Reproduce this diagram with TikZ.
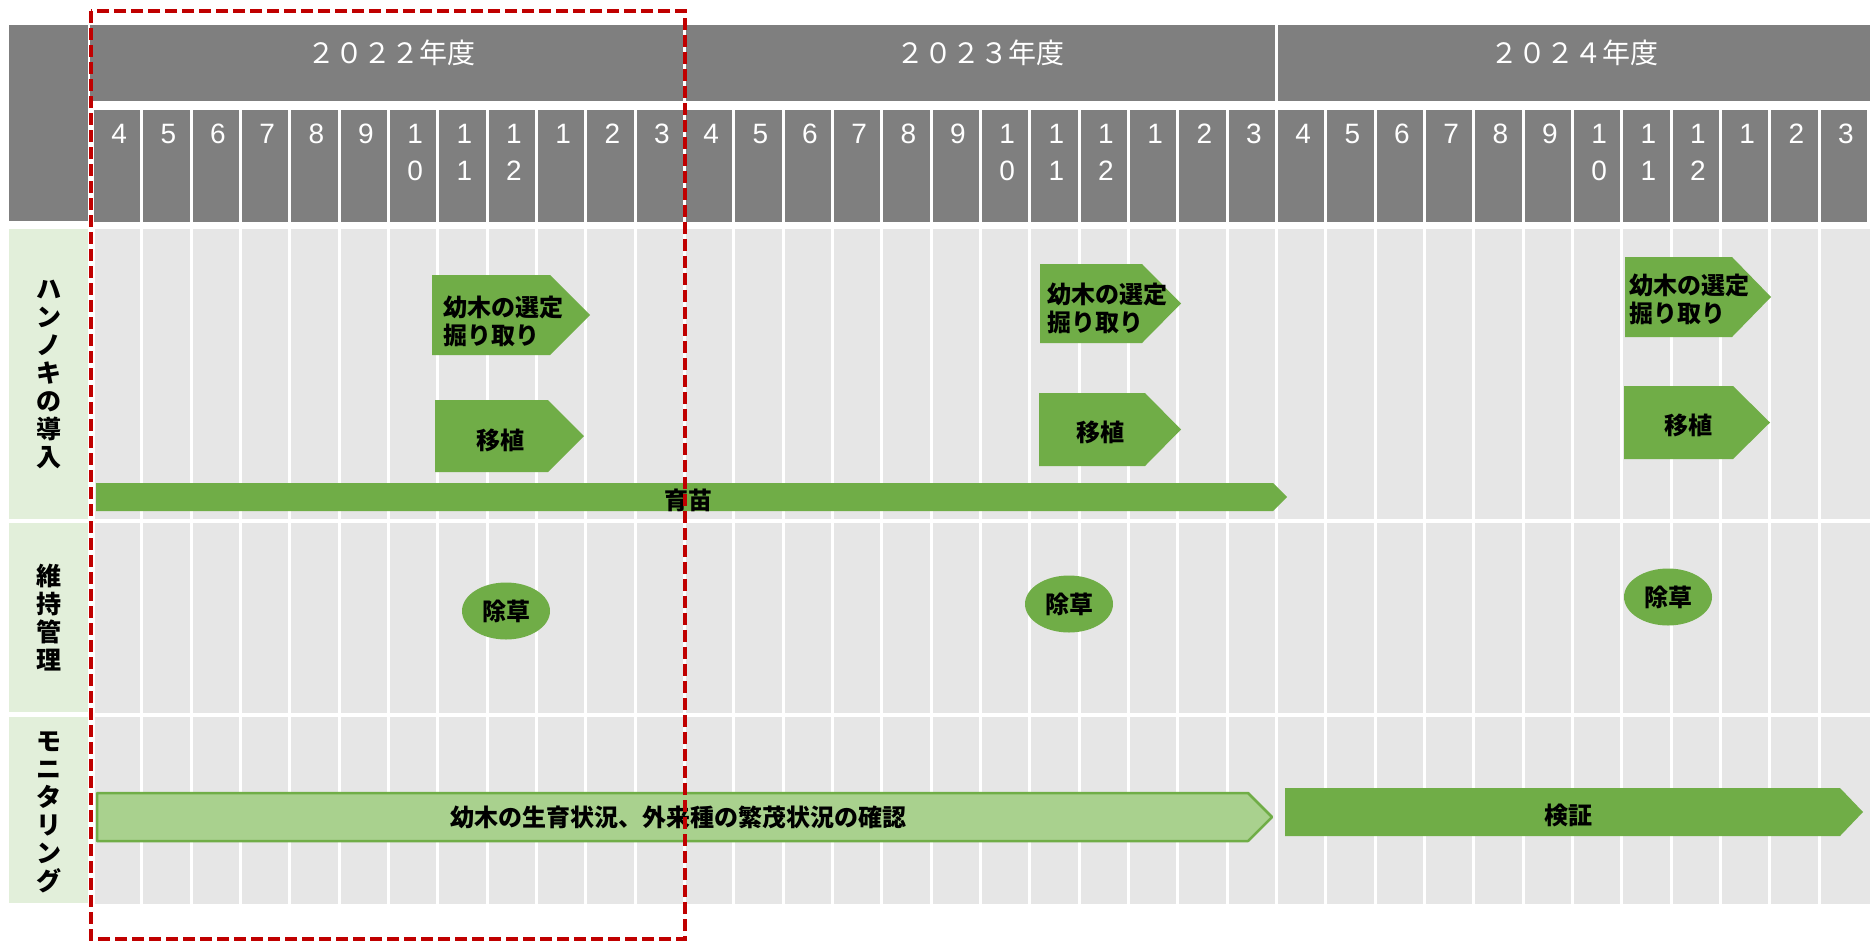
\documentclass[tikz,border=0pt]{standalone}
\usepackage{fontspec}
\usetikzlibrary{shapes.geometric}
\newfontfamily\jp{Noto Sans CJK JP}
\newfontfamily\arl{Liberation Sans}
\definecolor{hdr}{HTML}{7F7F7F}
\definecolor{cellgray}{HTML}{E6E6E6}
\definecolor{labgreen}{HTML}{E2EFDA}
\definecolor{midgreen}{HTML}{70AD47}
\definecolor{lightgreen}{HTML}{A9D18E}
\definecolor{darkred}{HTML}{C00000}
\newcommand\hplate[6]{\fill[#6] (#1,#2) -- (#3,#2) -- (#5,{(#2+#4)/2}) -- (#3,#4) -- (#1,#4) -- cycle;}
\begin{document}
\begin{tikzpicture}[x=1pt,y=-1pt,
  yeartext/.style={text=white,font=\jp\fontsize{28}{30}\selectfont,inner sep=0pt},
  monthtext/.style={text=white,font=\arl\fontsize{28}{37}\selectfont,align=center,anchor=north,inner sep=0pt},
  bartext/.style={text=black,font=\jp\bfseries\fontsize{24}{28}\selectfont,inner sep=0pt},
  labtext/.style={text=black,font=\jp\bfseries\fontsize{25}{28}\selectfont,align=center,inner sep=0pt},
  weed/.style={ellipse,fill=midgreen,minimum width=88pt,minimum height=57pt,inner sep=0pt,text=black,font=\jp\bfseries\fontsize{24}{28}\selectfont}
]
\useasboundingbox (0,0) rectangle (1874,943);
\fill[white] (0,0) rectangle (1874,943);
% header
\fill[hdr] (9,25) rectangle (88,221);
\fill[hdr] (90,25) rectangle (683,101);
\fill[hdr] (686,25) rectangle (1275,101);
\fill[hdr] (1278,25) rectangle (1870,101);
\foreach \k in {0,...,35}{
  \fill[hdr] ({92.5+49.333*\k+1.6},110) rectangle ({92.5+49.333*(\k+1)-1.6},222);
}
\node[yeartext] (y22) at (391,53) {２０２２年度};
\node[yeartext] (y23) at (980,53) {２０２３年度};
\node[yeartext] (y24) at (1574,53) {２０２４年度};
\foreach \yr in {0,1,2}{
  \foreach \k/\t in {0/4,1/5,2/6,3/7,4/8,5/9,6/{1\\0},7/{1\\1},8/{1\\2},9/1,10/2,11/3}{
    \node[monthtext] (m\yr-\k) at ({92.5+49.333*(12*\yr+\k+0.5)+2},124) {\t};
  }
}
% body grid
\fill[cellgray] (95,229) rectangle (1870,904);
\foreach \k in {1,...,35}{
  \draw[white,line width=3pt] ({92.5+49.333*\k},229) -- ({92.5+49.333*\k},904);
}
\draw[white,line width=4pt] (95,521) -- (1870,521);
\draw[white,line width=4pt] (95,714.5) -- (1870,714.5);
% row labels
\fill[labgreen] (9,229) rectangle (88,519);
\fill[labgreen] (9,523) rectangle (88,712);
\fill[labgreen] (9,717) rectangle (88,903);
\node[labtext] (l1) at (49,374) {ハ\\ン\\ノ\\キ\\の\\導\\入};
\node[labtext] (l2) at (49,618) {維\\持\\管\\理};
\node[labtext] (l3) at (49,812) {モ\\ニ\\タ\\リ\\ン\\グ};
% hannoki intro
\hplate{432}{275}{550}{355}{590}{midgreen}
\node[bartext,align=left,anchor=west] (a1) at (443,321) {幼木の選定\\掘り取り};
\hplate{435}{400}{548}{472}{584}{midgreen}
\node[bartext] (b1) at (500,440) {移植};
\hplate{1040}{264}{1142}{343}{1181}{midgreen}
\node[bartext,align=left,anchor=west] (a2) at (1047,308) {幼木の選定\\掘り取り};
\hplate{1039}{393}{1145}{466}{1181}{midgreen}
\node[bartext] (b2) at (1100,432) {移植};
\hplate{1625}{257}{1732}{337}{1771}{midgreen}
\node[bartext,align=left,anchor=west] (a3) at (1629,299) {幼木の選定\\掘り取り};
\hplate{1624}{386}{1733}{459}{1770}{midgreen}
\node[bartext] (b3) at (1688,425) {移植};
\hplate{96}{483}{1273}{511}{1287}{midgreen}
\node[bartext] (c1) at (688,500) {育苗};
% maintenance
\node[weed] (w1) at (506,611) {除草};
\node[weed] (w2) at (1069,604) {除草};
\node[weed] (w3) at (1668,597) {除草};
% monitoring
\filldraw[fill=lightgreen,draw=midgreen,line width=2.5pt,line join=round] (97,793) -- (1248,793) -- (1272,817) -- (1248,841) -- (97,841) -- cycle;
\node[bartext] (d1) at (678,817) {幼木の生育状況、外来種の繁茂状況の確認};
\hplate{1285}{788}{1840}{836}{1863}{midgreen}
\node[bartext] (d2) at (1568,815) {検証};
% highlight box
\draw[darkred,line width=3.5pt,dash pattern=on 12pt off 5pt] (91,11) rectangle (685,939);
\end{tikzpicture}
\end{document}
